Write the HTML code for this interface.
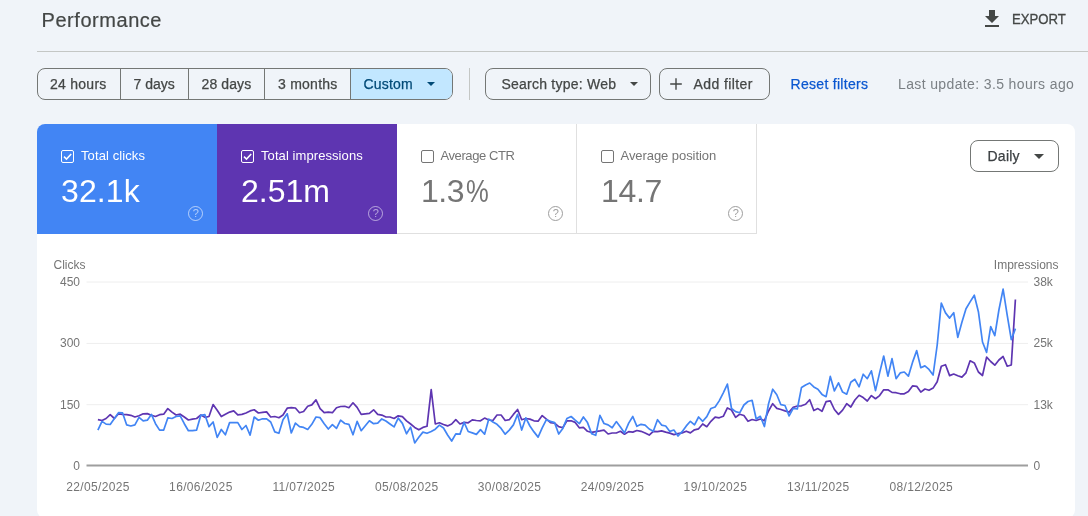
<!DOCTYPE html>
<html><head><meta charset="utf-8"><title>Performance</title>
<style>
*{box-sizing:border-box;margin:0;padding:0}
html,body{width:1088px;height:516px;overflow:hidden;background:#f0f4f9;font-family:"Liberation Sans",Arial,sans-serif;color:#1f1f1f}
.abs{position:absolute}
.t{position:absolute;white-space:nowrap;line-height:1}
#title{left:41.500px;top:10px;font-size:20px;color:#444746;letter-spacing:.55px;-webkit-text-stroke:.2px currentColor}
#export{left:1011.700px;top:12px;font-size:14px;line-height:14px;color:#444746;transform:scaleX(.94);transform-origin:0 50%;-webkit-text-stroke:.3px currentColor}
#hr{left:37px;top:51px;width:1051px;height:1px;background:#c4c7c5}
.chip{position:absolute;top:68px;height:32px;border:1px solid #747775;border-radius:8px}
.seg{position:absolute;top:0;height:30px;border-left:1px solid #747775}
.ct{position:absolute;top:76px;font-size:14px;color:#444746;white-space:nowrap;line-height:16px;-webkit-text-stroke:.25px currentColor}
#card{left:37px;top:124px;width:1038.300px;height:394px;background:#fff;border-radius:8px}
.tile{position:absolute;top:124px;width:180px;height:110px}
.tl{position:absolute;top:148.700px;font-size:13px;line-height:14px;white-space:nowrap}
.tv{position:absolute;top:172.700px;font-size:32px;line-height:36px;white-space:nowrap}
.cb{position:absolute;top:150px;width:13px;height:13px;border-radius:2px;border:1.400px solid #fff}
.hp{position:absolute;top:206px;width:15px;height:15px;border-radius:50%;border:1.200px solid;font-size:11px;line-height:12.600px;text-align:center}
.ax{position:absolute;font-size:12px;line-height:12px;color:#757575;white-space:nowrap}
.yl{width:40px;left:40px;text-align:right}
.xl{width:80px;text-align:center;top:481.400px;letter-spacing:.35px}
</style></head><body>
<div class="t" id="title">Performance</div>
<svg class="abs" style="left:980px;top:7px" width="24" height="24" viewBox="0 0 24 24"><path fill="#444746" d="M19 9h-4V3H9v6H5l7 7 7-7zM5 18v2h14v-2H5z"/></svg>
<div class="t" id="export">EXPORT</div>
<div class="abs" id="hr"></div>

<div class="chip" style="left:37px;width:416px;overflow:hidden">
  <div class="seg" style="left:82px"></div>
  <div class="seg" style="left:150px"></div>
  <div class="seg" style="left:226px"></div>
  <div class="seg" style="left:312px;width:103px;background:#c2e7ff"></div>
</div>
<div class="ct m" style="left:50px;letter-spacing:.26px">24 hours</div>
<div class="ct m" style="left:133.500px">7 days</div>
<div class="ct m" style="left:201.500px;letter-spacing:.1px">28 days</div>
<div class="ct m" style="left:278px;letter-spacing:.25px">3 months</div>
<div class="ct m" style="left:363.500px;color:#004a77;letter-spacing:.2px">Custom</div>
<svg class="abs" style="left:427px;top:82px" width="8" height="4" viewBox="0 0 8 4"><path d="M0 0h8L4 4z" fill="#004a77"/></svg>
<div class="abs" style="left:469px;top:68px;width:1px;height:32px;background:#c4c7c5"></div>

<div class="chip" style="left:485px;width:166px"></div>
<div class="ct m" style="left:501.500px;letter-spacing:.23px">Search type: Web</div>
<svg class="abs" style="left:630px;top:82px" width="8" height="4" viewBox="0 0 8 4"><path d="M0 0h8L4 4z" fill="#444746"/></svg>
<div class="chip" style="left:659px;width:111px"></div>
<svg class="abs" style="left:669px;top:77px" width="14" height="14" viewBox="0 0 14 14"><path d="M7 1.200v11.600M1.200 7h11.600" stroke="#444746" stroke-width="1.400" fill="none"/></svg>
<div class="ct m" style="left:693.500px;letter-spacing:.4px">Add filter</div>
<div class="ct m" style="left:790.500px;color:#0b57d0;letter-spacing:.3px">Reset filters</div>
<div class="ct m" style="left:898px;color:#7b8085;letter-spacing:.37px;-webkit-text-stroke:0">Last update: 3.5 hours ago</div>

<div class="abs" id="card"></div>
<div class="tile" style="left:37px;background:#4285f4;border-top-left-radius:8px"></div>
<div class="tile" style="left:217px;background:#5e35b1"></div>
<div class="tile" style="left:397px;background:#fff;border-right:1px solid #e0e0e0;border-bottom:1px solid #e0e0e0"></div>
<div class="tile" style="left:577px;background:#fff;border-right:1px solid #e0e0e0;border-bottom:1px solid #e0e0e0"></div>

<div class="cb" style="left:61px"></div>
<svg class="abs" style="left:61px;top:150px" width="13" height="13" viewBox="0 0 13 13"><path d="M3 6.600l2.500 2.500L10.200 4" stroke="#fff" stroke-width="1.500" fill="none"/></svg>
<div class="tl m" style="left:81px;color:#fff;letter-spacing:.1px">Total clicks</div>
<div class="tv m" style="left:61px;color:#fff;letter-spacing:.1px">32.1k</div>
<div class="hp" style="left:188.400px;color:rgba(255,255,255,.6)">?</div>

<div class="cb" style="left:241px"></div>
<svg class="abs" style="left:241px;top:150px" width="13" height="13" viewBox="0 0 13 13"><path d="M3 6.600l2.500 2.500L10.200 4" stroke="#fff" stroke-width="1.500" fill="none"/></svg>
<div class="tl m" style="left:261px;color:#fff;letter-spacing:.08px">Total impressions</div>
<div class="tv m" style="left:241px;color:#fff">2.51m</div>
<div class="hp" style="left:368.400px;color:rgba(255,255,255,.55)">?</div>

<div class="cb" style="left:421px;border-color:#757575"></div>
<div class="tl m" style="left:440.500px;color:#757575;letter-spacing:-.42px">Average CTR</div>
<div class="tv m" style="left:421px;color:#757575;letter-spacing:-.5px">1.3<span style="display:inline-block;transform:scaleX(.8);transform-origin:0 50%;margin-left:2px">%</span></div>
<div class="hp" style="left:548.400px;color:#9e9e9e">?</div>

<div class="cb" style="left:601px;border-color:#757575"></div>
<div class="tl m" style="left:620.500px;color:#757575;letter-spacing:-.06px">Average position</div>
<div class="tv m" style="left:601px;color:#757575;letter-spacing:-.3px">14.7</div>
<div class="hp" style="left:728.400px;color:#9e9e9e">?</div>

<div class="chip" style="left:970px;top:140px;width:89px;background:#fff"></div>
<div class="ct m" style="left:987.500px;top:148px;color:#3c4043;letter-spacing:.25px">Daily</div>
<svg class="abs" style="left:1034px;top:154px" width="10" height="5" viewBox="0 0 10 5"><path d="M0 0h10L5 5z" fill="#444746"/></svg>

<svg class="abs" id="chart" style="left:0;top:250px" width="1088" height="266" viewBox="0 250 1088 266">
<path d="M86.500 282H1028M86.500 343.400H1028M86.500 404.700H1028" stroke="#eeeeee" stroke-width="1" fill="none"/>
<path d="M86.500 465.500H1028" stroke="#9e9e9e" stroke-width="2"/>
<path d="M97.9 419.7 102.0 420.5 106.1 418.5 110.2 414.7 114.4 418.5 118.5 413.8 122.6 414.4 126.7 414.7 130.8 415.3 134.9 417.0 139.0 415.8 143.2 413.8 147.3 413.6 151.4 415.3 155.5 416.5 159.6 414.7 163.7 414.2 167.8 408.6 172.0 412.1 176.1 415.0 180.2 414.2 184.3 417.0 188.4 420.0 192.5 419.1 196.6 418.5 200.8 415.0 204.9 417.3 209.0 416.5 213.1 404.5 217.2 410.3 221.3 416.5 225.4 414.2 229.6 412.1 233.7 410.9 237.8 414.8 241.9 414.4 246.0 413.0 250.1 410.9 254.2 409.8 258.4 413.0 262.5 412.4 266.6 411.9 270.7 417.0 274.8 416.5 278.9 417.7 283.0 415.0 287.2 408.2 291.3 407.7 295.4 408.0 299.5 412.7 303.6 411.5 307.7 406.3 311.8 404.9 316.0 399.9 320.1 408.6 324.2 412.7 328.3 412.1 332.4 412.7 336.5 407.7 340.6 406.5 344.8 406.3 348.9 407.7 353.0 402.8 357.1 407.4 361.2 414.4 365.3 413.8 369.4 413.3 373.6 409.8 377.7 414.4 381.8 415.1 385.9 417.0 390.0 417.0 394.1 418.5 398.2 415.8 402.4 416.6 406.5 420.8 410.6 424.0 414.7 427.4 418.8 429.8 422.9 427.4 427.0 426.3 431.2 389.7 435.3 424.0 439.4 422.8 443.5 424.5 447.6 425.9 451.7 424.0 455.8 419.7 460.0 424.0 464.1 422.4 468.2 422.8 472.3 419.9 476.4 420.5 480.5 420.8 484.6 418.1 488.8 420.0 492.9 420.5 497.0 415.0 501.1 415.0 505.2 420.5 509.3 419.7 513.4 414.4 517.6 409.5 521.7 419.7 525.8 418.5 529.9 419.1 534.0 420.8 538.1 421.2 542.2 415.6 546.4 419.1 550.5 422.6 554.6 423.1 558.7 426.6 562.8 427.8 566.9 420.8 571.1 420.8 575.2 422.4 579.3 427.8 583.4 427.4 587.5 431.3 591.6 432.4 595.7 431.6 599.9 430.9 604.0 430.1 608.1 434.0 612.2 433.0 616.3 433.0 620.4 431.3 624.5 434.2 628.7 431.6 632.8 432.1 636.9 430.5 641.0 431.3 645.1 433.0 649.2 435.1 653.3 431.3 657.5 431.6 661.6 430.9 665.7 432.1 669.8 433.1 673.9 434.6 678.0 433.7 682.1 432.9 686.3 431.2 690.4 432.9 694.5 429.8 698.6 428.8 702.7 424.0 706.8 426.7 710.9 421.3 715.1 417.2 719.2 417.8 723.3 416.3 727.4 407.9 731.5 410.0 735.6 417.4 739.7 414.3 743.9 415.5 748.0 421.3 752.1 419.5 756.2 420.5 760.3 419.0 764.4 420.7 768.5 411.0 772.7 403.7 776.8 408.4 780.9 409.5 785.0 410.9 789.1 412.1 793.2 407.4 797.3 406.0 801.5 405.8 805.6 404.3 809.7 399.7 813.8 410.5 817.9 408.6 822.0 411.3 826.1 401.6 830.3 400.8 834.4 409.5 838.5 414.4 842.6 410.1 846.7 403.7 850.8 407.0 854.9 400.0 859.1 395.3 863.2 397.6 867.3 401.0 871.4 395.6 875.5 398.7 879.6 395.6 883.7 389.8 887.9 389.8 892.0 392.4 896.1 392.7 900.2 393.8 904.3 393.8 908.4 391.5 912.5 385.9 916.7 386.3 920.8 392.1 924.9 389.0 929.0 390.3 933.1 388.1 937.2 381.8 941.3 366.2 945.5 364.7 949.6 375.6 953.7 374.0 957.8 375.7 961.9 377.1 966.0 372.8 970.1 360.8 974.3 362.9 978.4 372.0 982.5 375.5 986.6 357.1 990.7 361.5 994.8 365.2 998.9 360.0 1003.1 356.5 1007.2 366.2 1011.3 365.0 1015.4 299.5" fill="none" stroke="#5e35b1" stroke-width="1.700" stroke-linejoin="round"/>
<path d="M97.9 430.1 102.0 421.4 106.1 424.1 110.2 424.5 114.4 418.5 118.5 412.7 122.6 412.9 126.7 424.9 130.8 426.0 134.9 424.9 139.0 417.3 143.2 420.8 147.3 420.2 151.4 414.4 155.5 423.7 159.6 430.1 163.7 430.1 167.8 417.9 172.0 418.5 176.1 416.5 180.2 415.8 184.3 423.7 188.4 430.7 192.5 430.6 196.6 430.1 200.8 415.3 204.9 414.7 209.0 426.6 213.1 422.0 217.2 437.4 221.3 429.5 225.4 434.8 229.6 422.6 233.7 422.6 237.8 422.6 241.9 429.5 246.0 425.5 250.1 435.1 254.2 417.0 258.4 420.2 262.5 418.8 266.6 418.8 270.7 422.0 274.8 431.9 278.9 433.3 283.0 419.7 287.2 413.8 291.3 433.0 295.4 423.1 299.5 426.6 303.6 427.4 307.7 429.5 311.8 424.3 316.0 417.0 320.1 417.7 324.2 423.7 328.3 429.0 332.4 424.7 336.5 428.4 340.6 420.2 344.8 423.5 348.9 424.3 353.0 434.8 357.1 421.4 361.2 430.7 365.3 425.8 369.4 420.8 373.6 423.7 377.7 423.1 381.8 418.9 385.9 421.0 390.0 424.0 394.1 426.9 398.2 418.1 402.4 423.4 406.5 433.8 410.6 427.1 414.7 442.9 418.8 437.3 422.9 432.1 427.0 433.3 431.2 431.5 435.3 429.2 439.4 425.1 443.5 428.0 447.6 435.0 451.7 441.0 455.8 433.8 460.0 434.1 464.1 422.4 468.2 431.5 472.3 432.9 476.4 434.4 480.5 429.6 484.6 434.2 488.8 419.1 492.9 422.0 497.0 424.3 501.1 428.4 505.2 434.2 509.3 430.1 513.4 424.9 517.6 414.4 521.7 430.1 525.8 417.9 529.9 426.0 534.0 431.9 538.1 437.1 542.2 427.8 546.4 419.7 550.5 421.4 554.6 422.6 558.7 434.0 562.8 428.4 566.9 418.5 571.1 416.5 575.2 420.2 579.3 423.7 583.4 417.0 587.5 422.6 591.6 433.6 595.7 435.3 599.9 415.3 604.0 423.5 608.1 424.9 612.2 427.8 616.3 421.6 620.4 427.0 624.5 433.0 628.7 423.1 632.8 416.5 636.9 426.3 641.0 424.3 645.1 425.1 649.2 429.0 653.3 431.3 657.5 419.7 661.6 425.1 665.7 426.0 669.8 431.4 673.9 430.0 678.0 436.0 682.1 431.7 686.3 425.9 690.4 421.3 694.5 424.8 698.6 417.0 702.7 421.3 706.8 416.6 710.9 408.5 715.1 407.0 719.2 400.9 723.3 392.8 727.4 384.1 731.5 408.5 735.6 411.6 739.7 412.8 743.9 405.0 748.0 401.5 752.1 400.3 756.2 419.0 760.3 416.3 764.4 426.5 768.5 404.0 772.7 389.2 776.8 394.7 780.9 404.7 785.0 405.5 789.1 415.9 793.2 408.4 797.3 409.0 801.5 387.4 805.6 384.9 809.7 383.0 813.8 386.9 817.9 389.2 822.0 394.4 826.1 396.7 830.3 376.4 834.4 390.9 838.5 382.8 842.6 392.1 846.7 394.2 850.8 382.2 854.9 379.3 859.1 386.8 863.2 374.2 867.3 378.7 871.4 370.8 875.5 390.6 879.6 372.9 883.7 356.0 887.9 376.2 892.0 358.7 896.1 378.7 900.2 372.9 904.3 372.0 908.4 376.2 912.5 362.4 916.7 350.6 920.8 367.7 924.9 365.9 929.0 369.4 933.1 375.0 937.2 345.0 941.3 303.0 945.5 312.9 949.6 318.1 953.7 312.7 957.8 337.3 961.9 322.2 966.0 308.8 970.1 301.9 974.3 295.2 978.4 311.7 982.5 342.0 986.6 352.4 990.7 326.6 994.8 335.6 998.9 310.0 1003.1 289.1 1007.2 315.2 1011.3 339.7 1015.4 328.6" fill="none" stroke="#4285f4" stroke-width="1.700" stroke-linejoin="round"/>
</svg>
<div class="ax m" style="left:53.500px;top:259px">Clicks</div>
<div class="ax m" style="right:29.500px;top:259px">Impressions</div>
<div class="ax yl m" style="top:276px">450</div>
<div class="ax yl m" style="top:337px">300</div>
<div class="ax yl m" style="top:398.500px">150</div>
<div class="ax yl m" style="top:460px">0</div>
<div class="ax m" style="left:1033.500px;top:276px">38k</div>
<div class="ax m" style="left:1033.500px;top:337px">25k</div>
<div class="ax m" style="left:1033.500px;top:398.500px">13k</div>
<div class="ax m" style="left:1033.500px;top:460px">0</div>
<div class="ax xl m" style="left:58px">22/05/2025</div>
<div class="ax xl m" style="left:160.900px">16/06/2025</div>
<div class="ax xl m" style="left:263.800px">11/07/2025</div>
<div class="ax xl m" style="left:366.700px">05/08/2025</div>
<div class="ax xl m" style="left:469.600px">30/08/2025</div>
<div class="ax xl m" style="left:572.500px">24/09/2025</div>
<div class="ax xl m" style="left:675.400px">19/10/2025</div>
<div class="ax xl m" style="left:778.300px">13/11/2025</div>
<div class="ax xl m" style="left:881.200px">08/12/2025</div>
</body></html>
